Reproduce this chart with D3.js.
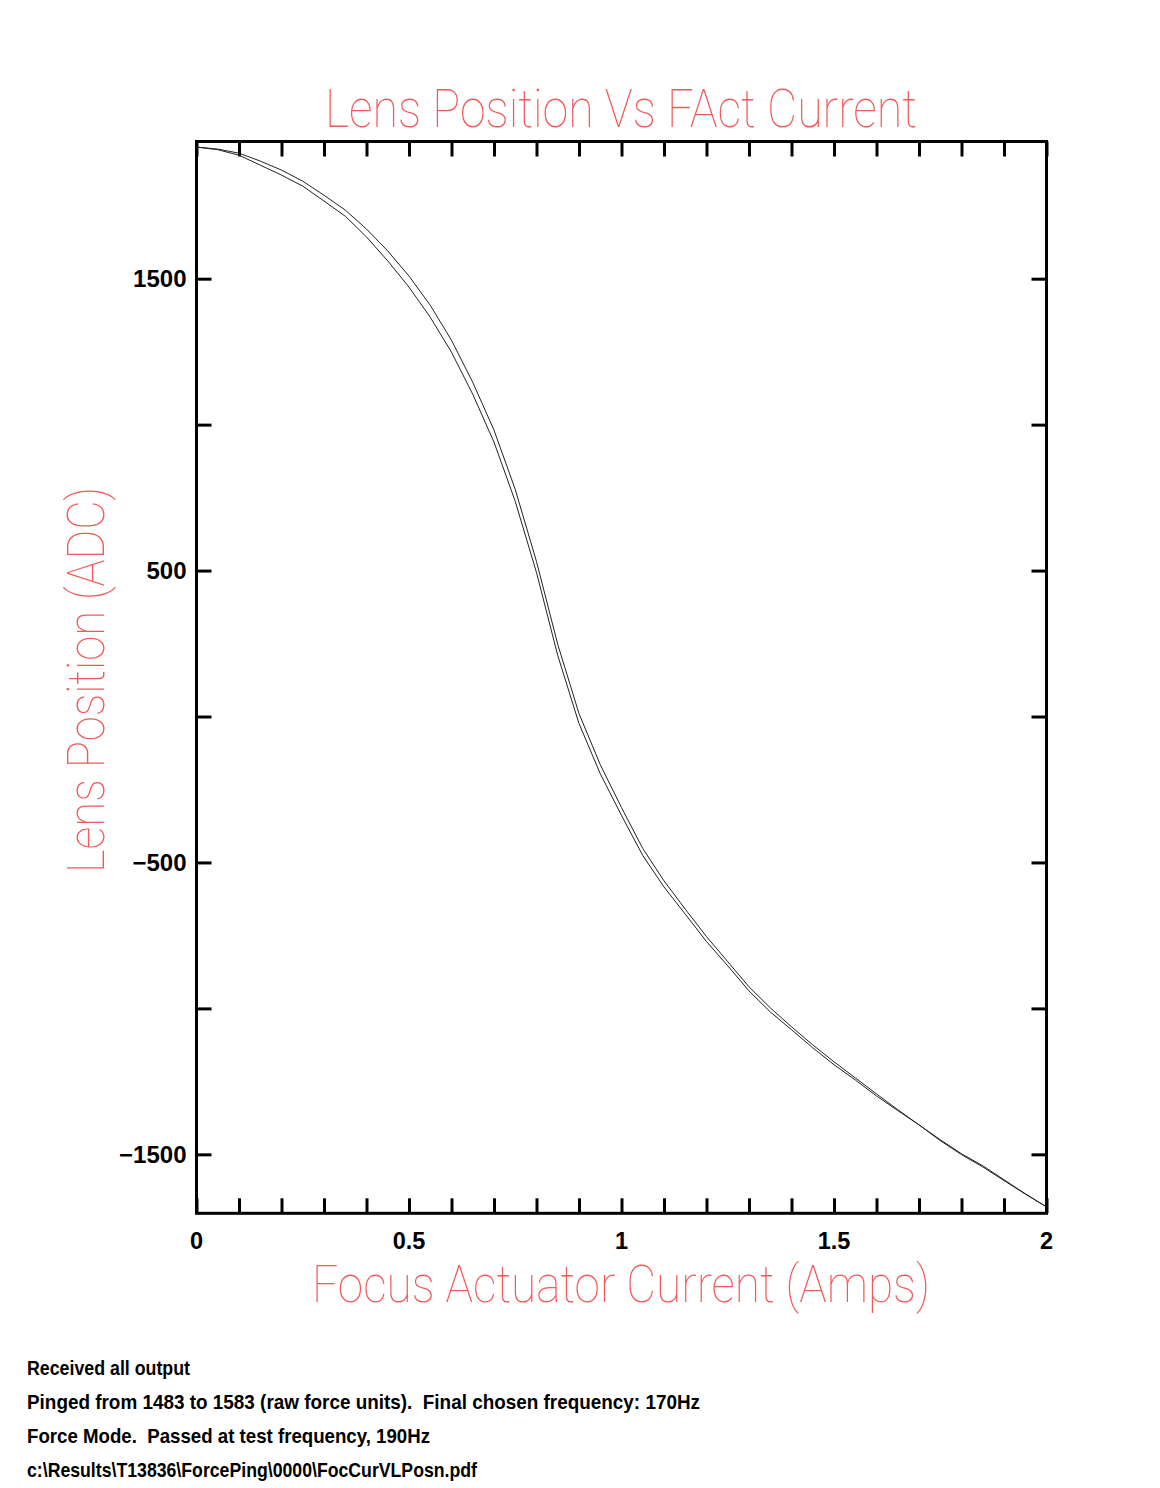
<!DOCTYPE html>
<html>
<head>
<meta charset="utf-8">
<script src="https://cdn.jsdelivr.net/npm/d3@7"></script>
<style>
  html, body { margin: 0; padding: 0; background: #fff; }
  svg { display: block; }
</style>
</head>
<body>
<script>
// ---- data ----
const currentAmps = [0, 0.05, 0.1, 0.15, 0.2, 0.25, 0.3, 0.35, 0.4, 0.45, 0.5, 0.55, 0.6, 0.65, 0.7, 0.75, 0.8, 0.85, 0.9, 0.95, 1.0, 1.05, 1.1, 1.15, 1.2, 1.25, 1.3, 1.35, 1.4, 1.45, 1.5, 1.55, 1.6, 1.65, 1.7, 1.75, 1.8, 1.85, 1.9, 1.95, 2.0];
const positionUpper = [1951, 1944, 1930, 1903, 1872, 1834, 1786, 1735, 1670, 1595, 1509, 1409, 1289, 1145, 981, 778, 531, 247, 10, -165, -312, -452, -563, -660, -754, -840, -926, -998, -1063, -1125, -1183, -1238, -1293, -1347, -1399, -1450, -1498, -1539, -1587, -1635, -1680];
const positionLower = [1951, 1942, 1923, 1889, 1855, 1817, 1766, 1714, 1643, 1561, 1471, 1368, 1248, 1104, 940, 737, 493, 209, -24, -196, -339, -476, -584, -677, -771, -854, -940, -1012, -1073, -1135, -1193, -1245, -1300, -1350, -1399, -1453, -1501, -1543, -1590, -1636, -1680];
const xTickValues = [0, 0.1, 0.2, 0.3, 0.4, 0.5, 0.6, 0.7, 0.8, 0.9, 1.0, 1.1, 1.2, 1.3, 1.4, 1.5, 1.6, 1.7, 1.8, 1.9, 2.0];
const xLabelValues = [0, 0.5, 1, 1.5, 2];
const yTickValues = [-1500, -1000, -500, 0, 500, 1000, 1500];
const yLabelValues = [-1500, -500, 500, 1500];
const titleText = "Lens Position Vs FAct Current";
const xAxisTitle = "Focus Actuator Current (Amps)";
const yAxisTitle = "Lens Position (ADC)";
const footerLines = [
  "Received all output",
  "Pinged from 1483 to 1583 (raw force units).  Final chosen frequency: 170Hz",
  "Force Mode.  Passed at test frequency, 190Hz",
  "c:\\Results\\T13836\\ForcePing\\0000\\FocCurVLPosn.pdf"
];

// ---- layout ----
const W = 1160, H = 1488;
const plot = { left: 196.5, right: 1046.5, top: 141.5, bottom: 1213.3 };
const red = "#f25a5a";
const thinFont = "Roboto, Lato, 'Noto Sans', sans-serif";
const narrowFont = "'Liberation Sans Narrow', 'Arial Narrow', 'Liberation Sans', sans-serif";

const svg = d3.select("body").append("svg").attr("width", W).attr("height", H);

const x = d3.scaleLinear().domain([0, 2]).range([plot.left, plot.right]);
const y = d3.scaleLinear().domain([-1702, 1970]).range([plot.bottom, plot.top]);

const tickLen = 15;
const axisStroke = 3;

function styleAxis(g) {
  g.select(".domain").remove();
  g.selectAll(".tick line").attr("stroke", "#000").attr("stroke-width", axisStroke);
  g.selectAll(".tick text").remove();
}

svg.append("g").attr("transform", `translate(0,${plot.bottom})`)
  .call(d3.axisBottom(x).tickValues(xTickValues).tickSizeInner(-tickLen).tickSizeOuter(0))
  .call(styleAxis);
svg.append("g").attr("transform", `translate(0,${plot.top})`)
  .call(d3.axisTop(x).tickValues(xTickValues).tickSizeInner(-tickLen).tickSizeOuter(0))
  .call(styleAxis);
svg.append("g").attr("transform", `translate(${plot.left},0)`)
  .call(d3.axisLeft(y).tickValues(yTickValues).tickSizeInner(-tickLen).tickSizeOuter(0))
  .call(styleAxis);
svg.append("g").attr("transform", `translate(${plot.right},0)`)
  .call(d3.axisRight(y).tickValues(yTickValues).tickSizeInner(-tickLen).tickSizeOuter(0))
  .call(styleAxis);

svg.append("rect")
  .attr("x", plot.left).attr("y", plot.top)
  .attr("width", plot.right - plot.left).attr("height", plot.bottom - plot.top)
  .attr("fill", "none").attr("stroke", "#000").attr("stroke-width", axisStroke);

// tick labels
svg.append("g").selectAll("text").data(xLabelValues).join("text")
  .attr("x", d => x(d)).attr("y", plot.bottom + 36)
  .attr("text-anchor", "middle")
  .attr("font-family", narrowFont).attr("font-weight", "bold").attr("font-size", 23.5)
  .attr("fill", "#000")
  .text(d => d3.format("~g")(d));

svg.append("g").selectAll("text").data(yLabelValues).join("text")
  .attr("x", plot.left - 10).attr("y", d => y(d) + 8.5)
  .attr("text-anchor", "end")
  .attr("font-family", narrowFont).attr("font-weight", "bold").attr("font-size", 24)
  .attr("fill", "#000")
  .text(d => (d < 0 ? "\u2212" : "") + Math.abs(d));

// curves
const line = d3.line().x(d => x(d[0])).y(d => y(d[1]));
[positionUpper, positionLower].forEach(series => {
  svg.append("path")
    .datum(currentAmps.map((c, i) => [c, series[i]]))
    .attr("fill", "none").attr("stroke", "#222").attr("stroke-width", 1)
    .attr("d", line);
});

// titles
svg.append("text")
  .attr("x", 621).attr("y", 127)
  .attr("text-anchor", "middle")
  .attr("font-family", thinFont).attr("font-weight", 100).attr("font-size", 54)
  .attr("fill", red)
  .attr("textLength", 592).attr("lengthAdjust", "spacingAndGlyphs")
  .text(titleText);

svg.append("text")
  .attr("x", 621).attr("y", 1302)
  .attr("text-anchor", "middle")
  .attr("font-family", thinFont).attr("font-weight", 100).attr("font-size", 52)
  .attr("fill", red)
  .attr("textLength", 618).attr("lengthAdjust", "spacingAndGlyphs")
  .text(xAxisTitle);

svg.append("text")
  .attr("transform", "translate(104,680) rotate(-90)")
  .attr("text-anchor", "middle")
  .attr("font-family", thinFont).attr("font-weight", 100).attr("font-size", 52)
  .attr("fill", red)
  .attr("textLength", 386).attr("lengthAdjust", "spacingAndGlyphs")
  .text(yAxisTitle);

// footer
const footerWidths = [163, 673, 403, 450];
svg.append("g").selectAll("text").data(footerLines).join("text")
  .attr("x", 27).attr("y", (d, i) => 1375 + i * 34)
  .attr("font-family", narrowFont).attr("font-weight", "bold").attr("font-size", 21)
  .attr("fill", "#000")
  .style("white-space", "pre")
  .attr("textLength", (d, i) => footerWidths[i]).attr("lengthAdjust", "spacingAndGlyphs")
  .text(d => d);
</script>
</body>
</html>
